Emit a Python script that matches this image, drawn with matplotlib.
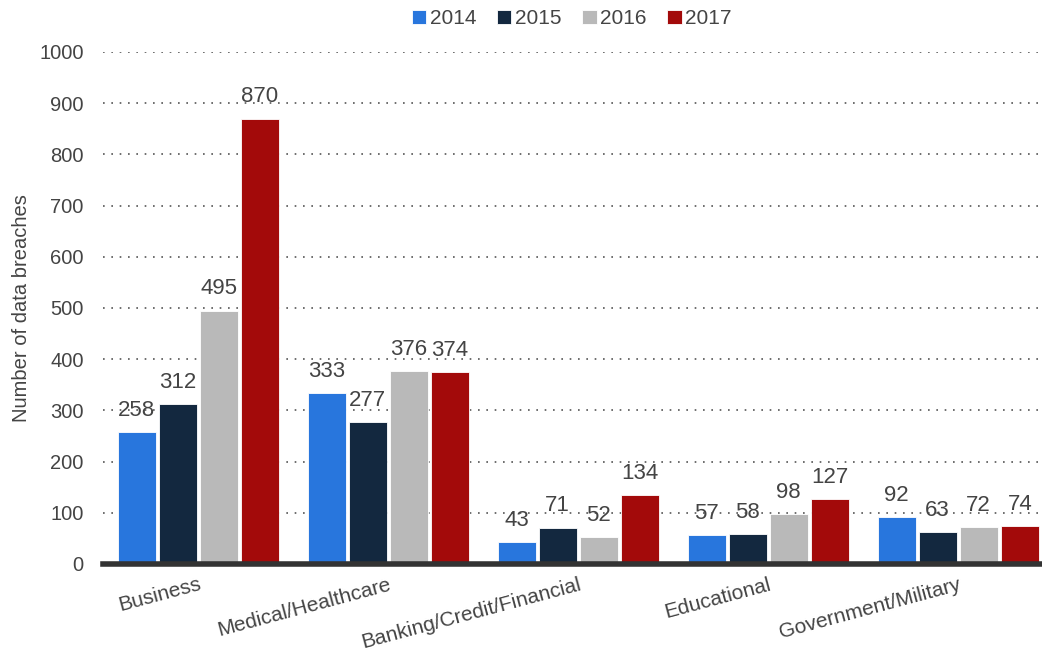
import matplotlib
matplotlib.use("Agg")
import matplotlib.pyplot as plt
import numpy as np

plt.rcParams['font.family'] = ['Liberation Sans', 'DejaVu Sans']

categories = ["Business", "Medical/Healthcare", "Banking/Credit/Financial",
              "Educational", "Government/Military"]
years = ["2014", "2015", "2016", "2017"]
v2014 = [258, 333, 43, 57, 92]
v2015 = [312, 277, 71, 58, 63]
v2016 = [495, 376, 52, 98, 72]
v2017 = [870, 374, 134, 127, 74]
series = [v2014, v2015, v2016, v2017]
colors = ["#2876dd", "#13283f", "#b9b9b9", "#a30a0a"]

fig = plt.figure(figsize=(10.42, 6.58), dpi=100)
ax = fig.add_axes([0.099, 0.143, 0.899, 0.778])

x = np.arange(len(categories))
slot = 0.216
width = 0.2
for i, (vals, col, yr) in enumerate(zip(series, colors, years)):
    pos = x + (i - 1.5) * slot
    ax.bar(pos, vals, width, color=col, label=yr,
           edgecolor="white", linewidth=0.6, zorder=3)
    for p, v in zip(pos, vals):
        ax.annotate(str(v), (p, v), xytext=(0, 8), textcoords="offset points",
                    ha="center", va="bottom", fontsize=16, color="#444444",
                    zorder=4, annotation_clip=False)

ax.set_ylim(0, 1000)
ax.set_xlim(-0.5, 4.43)
ax.set_yticks(range(0, 1001, 100))
ax.yaxis.grid(True, linestyle=(0, (1, 4)), color="#555555", linewidth=1.2, zorder=0)
ax.set_axisbelow(True)
for s in ["top", "right", "left"]:
    ax.spines[s].set_visible(False)
ax.spines["bottom"].set_color("#333333")
ax.spines["bottom"].set_linewidth(4)
ax.spines["bottom"].set_zorder(5)
ax.tick_params(axis="y", length=0, labelsize=14.5, labelcolor="#444444", pad=14)
ax.tick_params(axis="x", length=0, labelsize=15, labelcolor="#444444", pad=8)
ax.set_xticks(x)
ax.set_xticklabels(categories, rotation=15, ha="right", rotation_mode="anchor")
ax.set_ylabel("Number of data breaches", fontsize=14.5, color="#444444", labelpad=6)

ax.legend(loc="upper center", bbox_to_anchor=(0.5, 1.12), ncol=4,
          frameon=False, fontsize=15, handlelength=0.7, handleheight=0.7,
          handletextpad=0.15, columnspacing=1.0, labelcolor="#444444")

fig.savefig("out.png", dpi=100)
